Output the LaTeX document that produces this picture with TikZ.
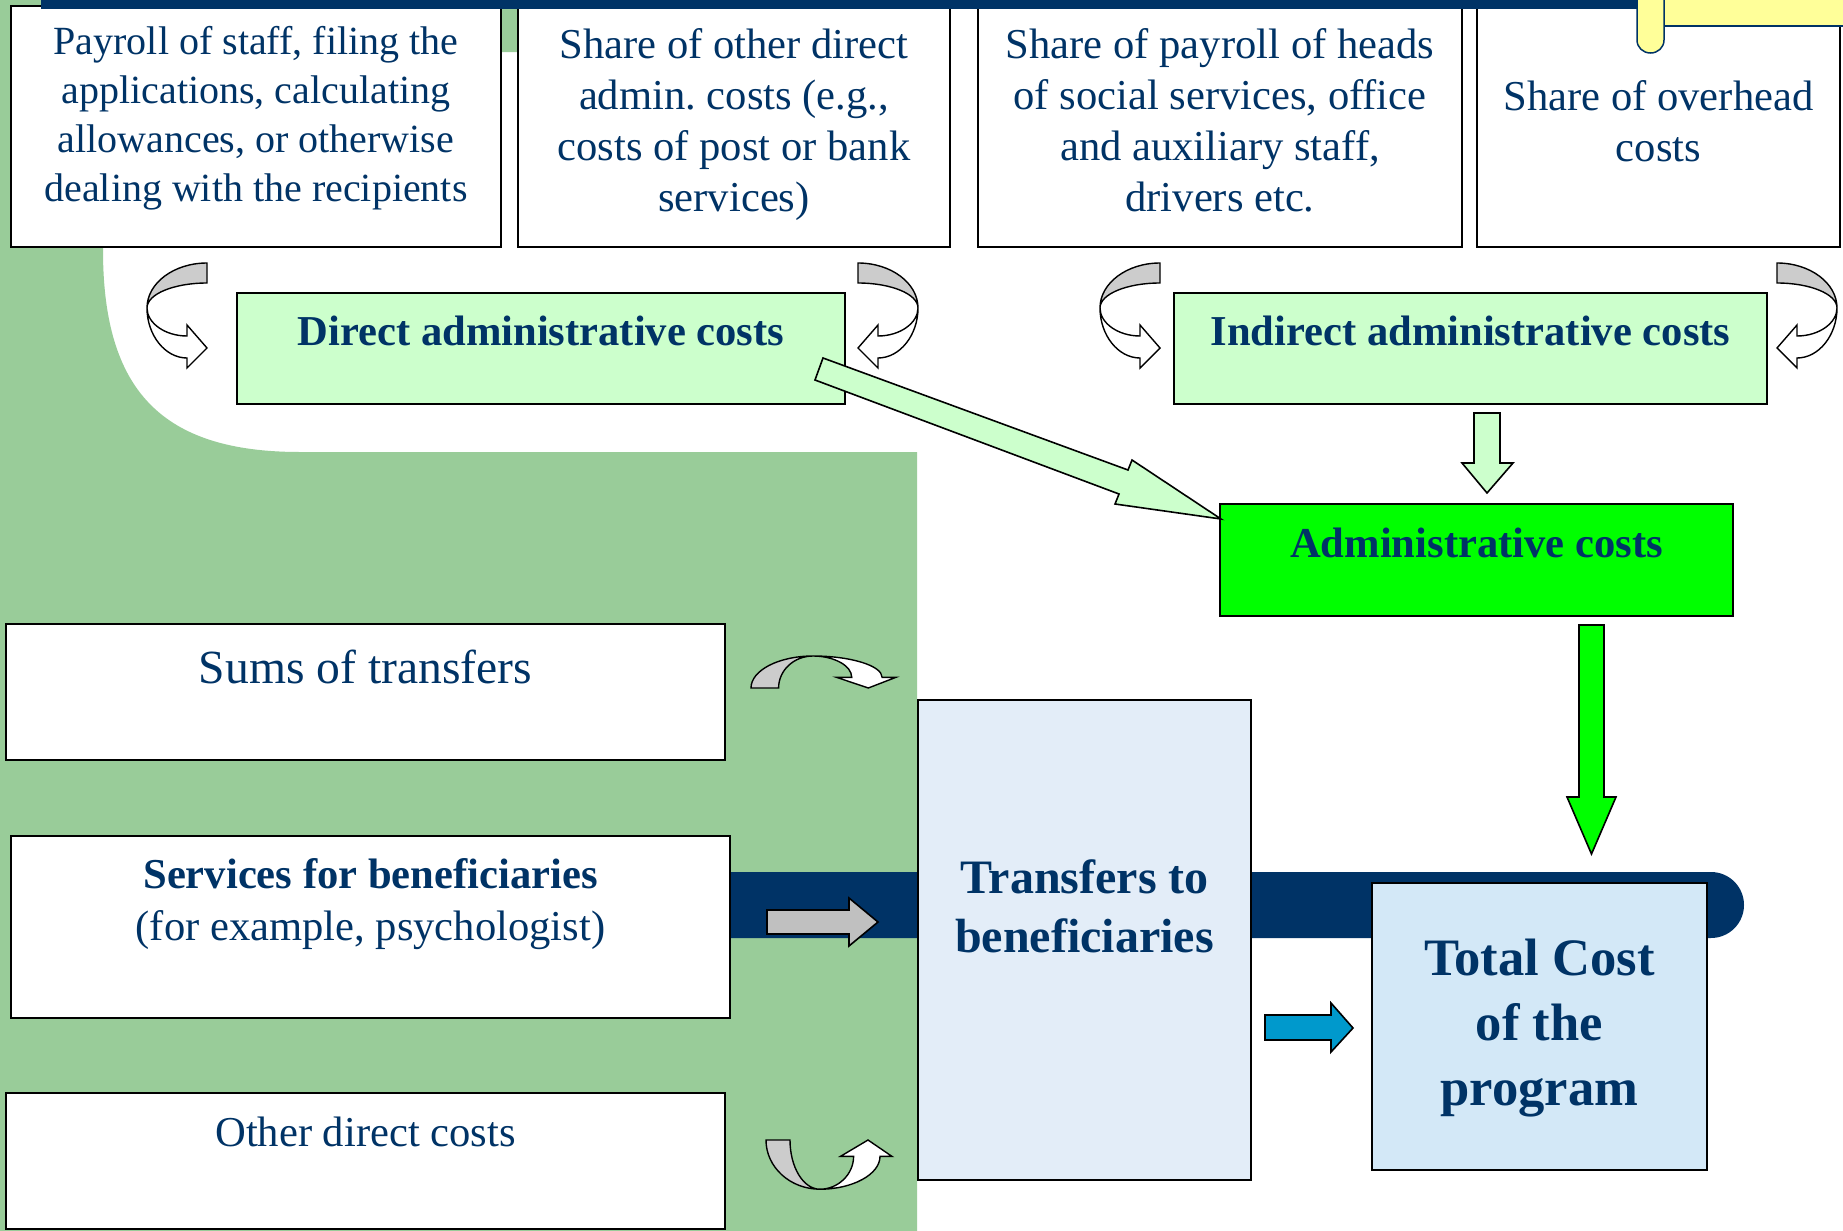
\documentclass[tikz,border=0pt]{standalone}
\usepackage{fontspec}
\setmainfont{Liberation Serif}
\usetikzlibrary{fit}
\frenchspacing
\definecolor{navy}{HTML}{003366}
\definecolor{bggreen}{HTML}{99CC99}
\definecolor{lgreen}{HTML}{CCFFCC}
\definecolor{bgreen}{HTML}{00FF00}
\definecolor{lblue}{HTML}{E3EDF8}
\definecolor{tblue}{HTML}{D3E8F7}
\definecolor{arrblue}{HTML}{0099CC}
\definecolor{cgray}{HTML}{CCCCCC}
\definecolor{agray}{HTML}{C0C0C0}
\definecolor{yel}{HTML}{FFFF99}
\newcommand\myfs[2]{\fontsize{#1}{#2}\selectfont}
\tikzset{
 box/.style={draw=black, line width=1pt, inner sep=0pt, fill=white},
 txt/.style={text=navy, align=center, inner sep=0pt},
 blockarrow/.style={draw=black, line width=0.8pt, line join=miter},
 uturn/.pic={
  \draw[fill=cgray, line width=0.7pt] (0,0) .. controls (-33,0) and (-60,20) .. (-60,45) .. controls (-60,31) and (-33,20) .. (0,20) -- cycle;
  \draw[fill=white, line width=0.7pt] (-60,45) .. controls (-60,60) and (-42,73) .. (-20,73) -- (-20,62) -- (0,85) -- (-20,105) -- (-20,95) .. controls (-42,95) and (-60,72) .. (-60,45) -- cycle;
 }
}
\begin{document}
\begin{tikzpicture}[x=0.5pt,y=-0.5pt]
\useasboundingbox (0,0) rectangle (1843,1231);
\clip (0,0) rectangle (1843,1231);
\fill[white] (0,0) rectangle (1843,1231);
\fill[bggreen] (0,0) -- (917,0) -- (917,52) -- (103,52) -- (103,250) .. controls (103,391) and (162,452) .. (300,452) -- (917,452) -- (917,1231) -- (0,1231) -- cycle;

% top boxes
\node[box, fit={(11,6)(501,247)}] (b1) {};
\node[box, fit={(518,6)(950,247)}] (b2) {};
\node[box, fit={(978,6)(1462,247)}] (b3) {};
\node[box, fit={(1477,6)(1840,247)}] (b4) {};
\fill[navy] (41,0) rectangle (1637,9);
\node[txt, font=\myfs{20}{24.5}] (t1) at (256,118) {Payroll of staff, filing the\\applications, calculating\\allowances, or otherwise\\dealing with the recipients};
\node[txt, font=\myfs{21.3}{25.5}] (t2) at (734,125) {Share of other direct\\admin. costs (e.g.,\\costs of post or bank\\services)};
\node[txt, font=\myfs{21.3}{25.5}] (t3) at (1220,120) {Share of payroll of heads\\of social services, office\\and auxiliary staff,\\drivers etc.};
\node[txt, font=\myfs{21.3}{25.5}] (t4) at (1658.5,121) {Share of overhead\\costs};

% admin boxes
\node[box, fill=lgreen, fit={(237,293)(845,404)}] (direct) {};
\node[txt, font=\myfs{21.3}{25}\bfseries] (tdirect) at (541,331) {Direct administrative costs};
\node[box, fill=lgreen, fit={(1174,293)(1767,404)}] (indirect) {};
\node[txt, font=\myfs{21.3}{25}\bfseries] (tindirect) at (1470.5,331) {Indirect administrative costs};
\node[box, fill=bgreen, fit={(1220,504)(1733,616)}] (admin) {};
\node[txt, font=\myfs{21.3}{25}\bfseries] (tadmin) at (1476.5,543) {Administrative costs};

% navy bar
\fill[navy, rounded corners=16.5pt] (690,872) rectangle (1744,938);

% lower left boxes
\node[box, fit={(6,624)(725,760)}] (sums) {};
\node[txt, font=\myfs{23.8}{28}] (tsums) at (365.5,667) {Sums of transfers};
\node[box, fit={(11,836)(730,1018)}] (serv) {};
\node[txt, font=\myfs{21.3}{26}] (tserv) at (370.5,904) {\textbf{Services for beneficiaries}\\(for example, psychologist)};
\node[box, fit={(6,1093)(725,1229)}] (other) {};
\node[txt, font=\myfs{21.3}{25}] (tother) at (365.5,1132) {Other direct costs};

% transfers and total
\node[box, fill=lblue, fit={(918,700)(1251,1180)}] (transfers) {};
\node[txt, font=\myfs{24}{29.5}\bfseries] (ttransfers) at (1084.5,906) {Transfers to\\beneficiaries};
\node[box, fill=tblue, fit={(1372,883)(1707,1170)}] (total) {};
\node[txt, font=\myfs{26.3}{32.5}\bfseries] (ttotal) at (1539.5,1028) {Total Cost\\of the\\program};

% block arrows
\draw[blockarrow, fill=lgreen] (823,358) -- (1128,470) -- (1132,460) -- (1221,519) -- (1115,504) -- (1119,494) -- (815,380) -- cycle;
\draw[blockarrow, fill=lgreen] (1474,413) -- (1500,413) -- (1500,463) -- (1513,463) -- (1487,493) -- (1462,463) -- (1474,463) -- cycle;
\draw[blockarrow, fill=bgreen] (1579,625) -- (1604,625) -- (1604,797) -- (1616,797) -- (1591.5,854) -- (1567,797) -- (1579,797) -- cycle;
\draw[blockarrow, fill=agray] (767,910) -- (849,910) -- (849,898) -- (878,922) -- (849,946) -- (849,934) -- (767,934) -- cycle;
\draw[blockarrow, fill=arrblue] (1265,1015) -- (1331,1015) -- (1331,1003) -- (1353,1028) -- (1331,1052) -- (1331,1040) -- (1265,1040) -- cycle;

% curved arrows
\pic at (207,263) {uturn};
\begin{scope}[shift={(858,263)}]
 \begin{scope}[x={(-0.5pt,0pt)}, y={(0pt,-0.5pt)}] \pic {uturn}; \end{scope}
\end{scope}
\pic at (1160,263) {uturn};
\begin{scope}[shift={(1777,263)}]
 \begin{scope}[x={(-0.5pt,0pt)}, y={(0pt,-0.5pt)}] \pic {uturn}; \end{scope}
\end{scope}
\begin{scope}[shift={(751,688)}]
 \begin{scope}[x={(0pt,-0.2667pt)}, y={(0.69pt,0pt)}]
  \pic {uturn};
 \end{scope}
\end{scope}
\begin{scope}[shift={(766,1140)}]
 \begin{scope}[x={(0pt,0.41pt)}, y={(0.6pt,0pt)}]
  \pic {uturn};
 \end{scope}
\end{scope}

% yellow corner
\draw[fill=yel, draw=navy, line width=0.75pt] (1664,-5) rectangle (1850,26);
\draw[fill=yel, draw=navy, line width=0.75pt] (1637,-5) -- (1637,40) .. controls (1637,47.5) and (1643,53) .. (1650.5,53) .. controls (1658,53) and (1664,47.5) .. (1664,40) -- (1664,-5);
\end{tikzpicture}
\end{document}
